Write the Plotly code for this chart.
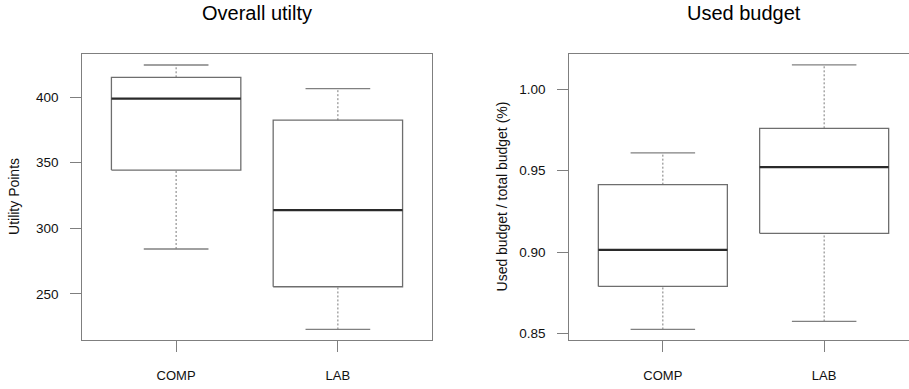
import plotly.graph_objects as go

groups = ["COMP", "LAB"]

# Overall utility (Utility Points)
util_low = [284.2, 222.8]
util_q1 = [344.4, 255.4]
util_med = [399.0, 313.8]
util_q3 = [415.2, 382.5]
util_high = [424.6, 406.6]

# Used budget (ratio)
bud_low = [0.8525, 0.8574]
bud_q1 = [0.8789, 0.9115]
bud_med = [0.9013, 0.9522]
bud_q3 = [0.9414, 0.9760]
bud_high = [0.9609, 1.0149]

util_ticks = [250, 300, 350, 400]
bud_ticks = [0.85, 0.90, 0.95, 1.00]

FONT = "Liberation Sans, Arial, sans-serif"
BOXW = 0.4
CAPW = 0.2

fig = go.Figure()


def add_boxes(xa, ya, low, q1, med, q3, high):
    for i, g in enumerate(groups):
        c = i + 1
        # whiskers (dashed)
        fig.add_trace(go.Scatter(
            x=[c, c, None, c, c], y=[q3[i], high[i], None, low[i], q1[i]],
            mode="lines", line=dict(color="#7a7a7a", width=1, dash="2px,2px"),
            xaxis=xa, yaxis=ya, hoverinfo="skip", showlegend=False))
        # caps
        fig.add_trace(go.Scatter(
            x=[c - CAPW, c + CAPW, None, c - CAPW, c + CAPW],
            y=[high[i], high[i], None, low[i], low[i]],
            mode="lines", line=dict(color="#808080", width=1.3),
            xaxis=xa, yaxis=ya, hoverinfo="skip", showlegend=False))
        # box
        fig.add_trace(go.Scatter(
            x=[c - BOXW, c + BOXW, c + BOXW, c - BOXW, c - BOXW],
            y=[q1[i], q1[i], q3[i], q3[i], q1[i]],
            mode="lines", line=dict(color="#6e6e6e", width=1.3),
            xaxis=xa, yaxis=ya, hoverinfo="skip", showlegend=False))
        # median
        fig.add_trace(go.Scatter(
            x=[c - BOXW, c + BOXW], y=[med[i], med[i]],
            mode="lines", line=dict(color="#2a2a2a", width=2.2),
            xaxis=xa, yaxis=ya, hoverinfo="skip", showlegend=False))


add_boxes("x", "y", util_low, util_q1, util_med, util_q3, util_high)
add_boxes("x2", "y2", bud_low, bud_q1, bud_med, bud_q3, bud_high)

W, H = 909, 389
ydom = [1 - 341.3 / H, 1 - 54 / H]

axcol = "#7f7f7f"
common_x = dict(tickmode="array", tickvals=[1, 2], ticktext=groups,
                ticks="outside", ticklen=11, tickcolor=axcol, tickwidth=1,
                showgrid=False, zeroline=False, showline=True, linecolor=axcol,
                linewidth=1, tickfont=dict(family=FONT, size=13, color="#111"),
                ticklabelstandoff=13, fixedrange=True)
common_y = dict(ticks="outside", ticklen=11, tickcolor=axcol, tickwidth=1,
                showgrid=False, zeroline=False, showline=True, linecolor=axcol,
                linewidth=1, tickfont=dict(family=FONT, size=13.5, color="#111"),
                ticklabelstandoff=9, fixedrange=True)

fig.update_layout(
    width=W, height=H, margin=dict(l=0, r=0, t=0, b=0),
    plot_bgcolor="white", paper_bgcolor="white", showlegend=False,
    xaxis=dict(domain=[82.3 / W, 431.7 / W], range=[0.42, 2.58], anchor="y",
               mirror=True, **common_x),
    yaxis=dict(domain=ydom, range=[215.1, 433.2], anchor="x", mirror=True,
               tickvals=util_ticks, **common_y),
    xaxis2=dict(domain=[569.3 / W, 1.0], range=[0.42, 0.42 + (W - 569.3) / 161.3],
                anchor="y2", mirror=True, **common_x),
    yaxis2=dict(domain=ydom, range=[0.8463, 1.0218], anchor="x2", mirror=False,
                tickvals=bud_ticks, tickformat=".2f", **common_y),
)

annots = [
    dict(text="Overall utilty", x=257 / W, y=1 - 13.5 / H, size=20),
    dict(text="Used budget", x=744 / W, y=1 - 13.5 / H, size=20),
]
for a in annots:
    fig.add_annotation(text=a["text"], x=a["x"], y=a["y"], xref="paper", yref="paper",
                       xanchor="center", yanchor="middle", showarrow=False,
                       font=dict(family=FONT, size=a["size"], color="#000"))

for text, xc in [("Utility Points", 14.5), ("Used budget / total budget (%)", 502)]:
    fig.add_annotation(text=text, x=xc / W, y=(1 - 197.5 / H), xref="paper", yref="paper",
                       xanchor="center", yanchor="middle", showarrow=False, textangle=-90,
                       font=dict(family=FONT, size=14, color="#111"))

fig.write_html("out.html")
